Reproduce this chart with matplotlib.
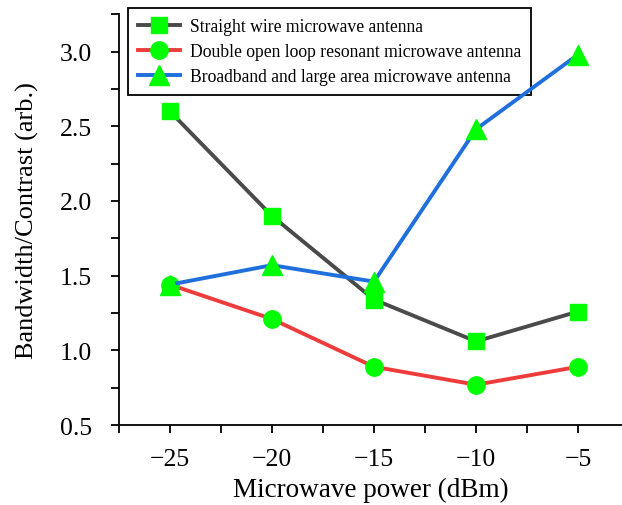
import matplotlib
matplotlib.use('Agg')
import matplotlib.pyplot as plt
from matplotlib.ticker import MultipleLocator

plt.rcParams['font.family'] = ['Liberation Serif', 'DejaVu Serif']

# microwave power (dBm)
power = [-25, -20, -15, -10, -5]

# bandwidth/contrast for each antenna
straight_wire = [2.60, 1.90, 1.34, 1.06, 1.26]
double_loop = [1.44, 1.21, 0.89, 0.77, 0.89]
broadband = [1.44, 1.57, 1.46, 2.48, 2.98]

labels = ['Straight wire microwave antenna',
          'Double open loop resonant microwave antenna',
          'Broadband and large area microwave antenna']

fig = plt.figure(figsize=(6.22, 5.06), dpi=100)
ax = fig.add_axes([0.191, 0.158, 0.809, 0.812])

ax.plot(power, straight_wire, color='#4a4a4a', lw=2.8, marker='s', ms=11.5,
        mfc='#00ff00', mec='#00ff00', label=labels[0])
ax.plot(power, double_loop, color='#ee3b3b', lw=2.8, marker='o', ms=12.5,
        mfc='#00ff00', mec='#00ff00', label=labels[1])
ax.plot(power, broadband, color='#1f6fdc', lw=2.8, marker='^', ms=14,
        mfc='#00ff00', mec='#00ff00', label=labels[2])

ax.set_xlim(-27.5, -2.85)
ax.set_ylim(0.5, 3.25)
ax.xaxis.set_minor_locator(MultipleLocator(2.5))
ax.yaxis.set_minor_locator(MultipleLocator(0.25))
ax.set_xticks(power)
ax.set_xticklabels(['\u221225', '\u221220', '\u221215', '\u221210', '\u22125'])
ax.set_yticks([0.5, 1.0, 1.5, 2.0, 2.5, 3.0])
ax.set_yticklabels(['0.5', '1.0', '1.5', '2.0', '2.5', '3.0'])

for side in ['top', 'right']:
    ax.spines[side].set_visible(False)
for side in ['left', 'bottom']:
    ax.spines[side].set_linewidth(1.3)

ax.tick_params(which='both', direction='out', length=5.5, width=1.3, labelsize=18.5)
ax.tick_params(axis='x', pad=11)
ax.tick_params(axis='y', pad=14)

ax.set_xlabel('Microwave power (dBm)', fontsize=19.5, labelpad=5)
ax.set_ylabel('Bandwidth/Contrast (arb.)', fontsize=19, labelpad=15)

leg = ax.legend(loc='upper left', bbox_to_anchor=(0.018, 1.015), fontsize=12.7,
                frameon=True, fancybox=False, edgecolor='black', handlelength=2.4,
                handletextpad=0.55, borderpad=0.55, labelspacing=0.47, framealpha=1,
                borderaxespad=0)
leg.get_frame().set_linewidth(1.3)
# lines run over the legend corner
leg.set_zorder(1)

plt.savefig('out.png', dpi=100)
